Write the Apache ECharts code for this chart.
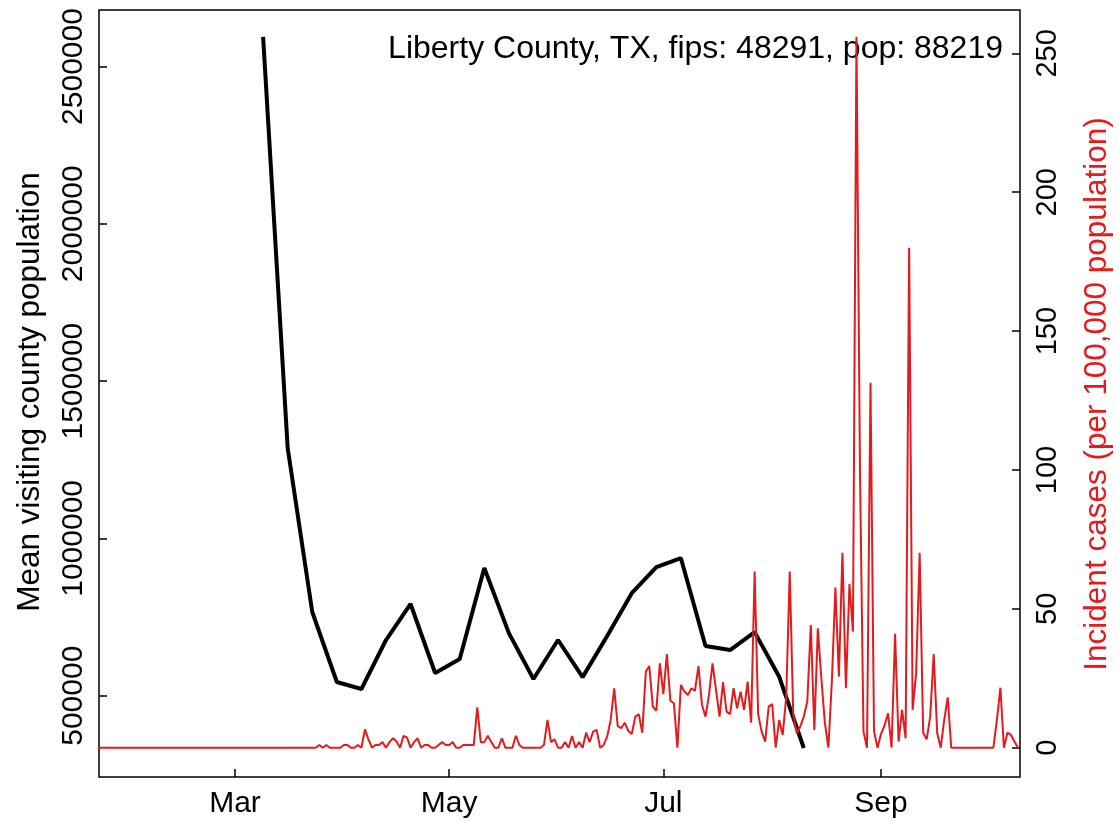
<!DOCTYPE html>
<html><head><meta charset="utf-8">
<script src="https://cdn.jsdelivr.net/npm/echarts@6/dist/echarts.min.js"></script>
<style>html,body{margin:0;padding:0;background:#fff}#c{width:1119px;height:822px}</style>
</head><body><div id="c"></div>
<script>
const redStart = '2020-01-22';
const redValues = [
  0,0,0,0,0,0,0,0,0,0, 0,0,0,0,0,0,0,0,0,0, 0,0,0,0,0,0,0,0,0,0,
  0,0,0,0,0,0,0,0,0,0, 0,0,0,0,0,0,0,0,0,0, 0,0,0,0,0,0,0,0,0,0,
  0,0,0,
  1,0,1,0,0,0,0,1,1,0,
  0,1,0,6.6,3,0,1,1,2,0,
  2,3.4,2.2,0,4.3,3.6,0,2,3.4,0,
  1,1,0,0,1,2,1,1,2,0,
  0,1,1,1,1,14.5,2,2,4.3,2,
  0,0,3.4,0,0,0,4.3,1,0,0,
  0,0,0,0,1,10,2,3,0,0,
  2,0,4.2,0,2,0,5.4,2,5.8,6.4,
  0,1,4,10,21.4,7.8,7,9,6.1,4.9,
  11.2,12.1,5.4,27.4,29.4,14.8,13.3,30.4,19.3,33.7,
  16.9,16,0,22.6,20.2,19,21.4,20.5,29.4,15.4,
  11.2,19,30.4,20.8,11.2,23.6,13,12.1,21.4,14.2,
  20.2,13.6,23.8,9,63.4,12.1,5.8,2.2,14.8,15.7,
  0,10,4.6,18.4,63.4,11.8,5.2,7.6,11.2,16.6,
  44.2,6.4,43,25,9,0,24,57.7,25.6,70.2,
  21.4,58.9,41.8,256,100,5.8,0,131.4,6,0,
  5,8,12.4,0,41,2.2,13.6,3.4,180,13.6,
  26.8,70.2,5.4,3,11.2,33.7,5.2,0,10,18.1,
  0,0,0,0,0,0,0,0,0,0,
  0,0,0,10,21.6,0,5.4,4.6,2.2,0
];
const blackDates = ['2020-03-09','2020-03-16','2020-03-23','2020-03-30','2020-04-06','2020-04-13','2020-04-20','2020-04-27','2020-05-04','2020-05-11','2020-05-18','2020-05-25','2020-06-01','2020-06-08','2020-06-15','2020-06-22','2020-06-29','2020-07-06','2020-07-13','2020-07-20','2020-07-27','2020-08-03','2020-08-10'];
const blackValues = [2593800,1287300,766000,543500,521300,677000,791500,572100,616600,906000,699000,553000,677000,559000,690000,826000,909000,937000,658000,645000,702000,560000,333800];
const xTickDates = ['2020-03-01','2020-05-01','2020-07-01','2020-09-01'];
const xTickLabels = ['Mar','May','Jul','Sep'];
const leftTicks = [500000,1000000,1500000,2000000,2500000];
const rightTicks = [0,50,100,150,200,250];
const annotation = 'Liberty County, TX, fips: 48291, pop: 88219';
const leftTitle = 'Mean visiting county population';
const rightTitle = 'Incident cases (per 100,000 population)';

const DAY = 86400000;
const origin = Date.parse('2020-03-01');
const dayNum = s => (Date.parse(s) - origin) / DAY;
const redStartDay = dayNum(redStart);
const redData = redValues.map((v, i) => [redStartDay + i, v]);
const blackData = blackDates.map((d, i) => [dayNum(d), blackValues[i]]);
const tickDays = xTickDates.map(dayNum);
const FONT = 'Liberation Sans, Arial, sans-serif';
const RED = '#e41a1c';

const chart = echarts.init(document.getElementById('c'), null, {renderer: 'canvas'});
chart.setOption({
  animation: false,
  backgroundColor: '#fff',
  grid: {left: 99, right: 99, top: 10, bottom: 45, show: true, borderColor: '#000', borderWidth: 1.5, backgroundColor: 'transparent'},
  xAxis: {
    type: 'value', min: -38.74, max: 223.58,
    axisLine: {show: false, onZero: false}, splitLine: {show: false},
    axisTick: {show: true, inside: true, length: 8, customValues: tickDays, lineStyle: {color: '#000', width: 1.5}},
    axisLabel: {customValues: tickDays, fontSize: 30, color: '#000', fontFamily: FONT, margin: 12,
      formatter: v => { const i = tickDays.findIndex(t => Math.abs(t - v) < 0.01); return i >= 0 ? xTickLabels[i] : ''; }}
  },
  yAxis: [
    {
      type: 'value', position: 'left', min: 241577, max: 2679593,
      axisLine: {show: false, onZero: false}, splitLine: {show: false},
      axisTick: {show: true, inside: true, length: 8, customValues: leftTicks, lineStyle: {color: '#000', width: 1.5}},
      axisLabel: {customValues: leftTicks, rotate: 90, fontSize: 30, color: '#000', fontFamily: FONT, margin: 10,
        formatter: v => String(v)}
    },
    {
      type: 'value', position: 'right', min: -10.55, max: 265.6,
      axisLine: {show: false, onZero: false}, splitLine: {show: false},
      axisTick: {show: true, inside: true, length: 8, customValues: rightTicks, lineStyle: {color: '#000', width: 1.5}},
      axisLabel: {customValues: rightTicks, rotate: 90, fontSize: 29, color: '#000', fontFamily: FONT, margin: 13,
        formatter: v => String(v)}
    }
  ],
  series: [
    {type: 'line', yAxisIndex: 0, data: blackData, showSymbol: false, silent: true, z: 2,
     lineStyle: {color: '#000', width: 4}},
    {type: 'line', yAxisIndex: 1, data: redData, showSymbol: false, silent: true, z: 3,
     lineStyle: {color: RED, width: 2}}
  ],
  graphic: [
    {type: 'text', x: 1003, y: 49, style: {text: annotation, fill: '#000', font: '32px ' + FONT, textAlign: 'right', textVerticalAlign: 'middle'}},
    {type: 'text', x: 30, y: 392, rotation: Math.PI / 2, style: {text: leftTitle, fill: '#000', font: '31.5px ' + FONT, textAlign: 'center', textVerticalAlign: 'middle'}},
    {type: 'text', x: 1097, y: 394, rotation: Math.PI / 2, style: {text: rightTitle, fill: RED, font: '31.5px ' + FONT, textAlign: 'center', textVerticalAlign: 'middle'}}
  ]
});
</script>
</body></html>
